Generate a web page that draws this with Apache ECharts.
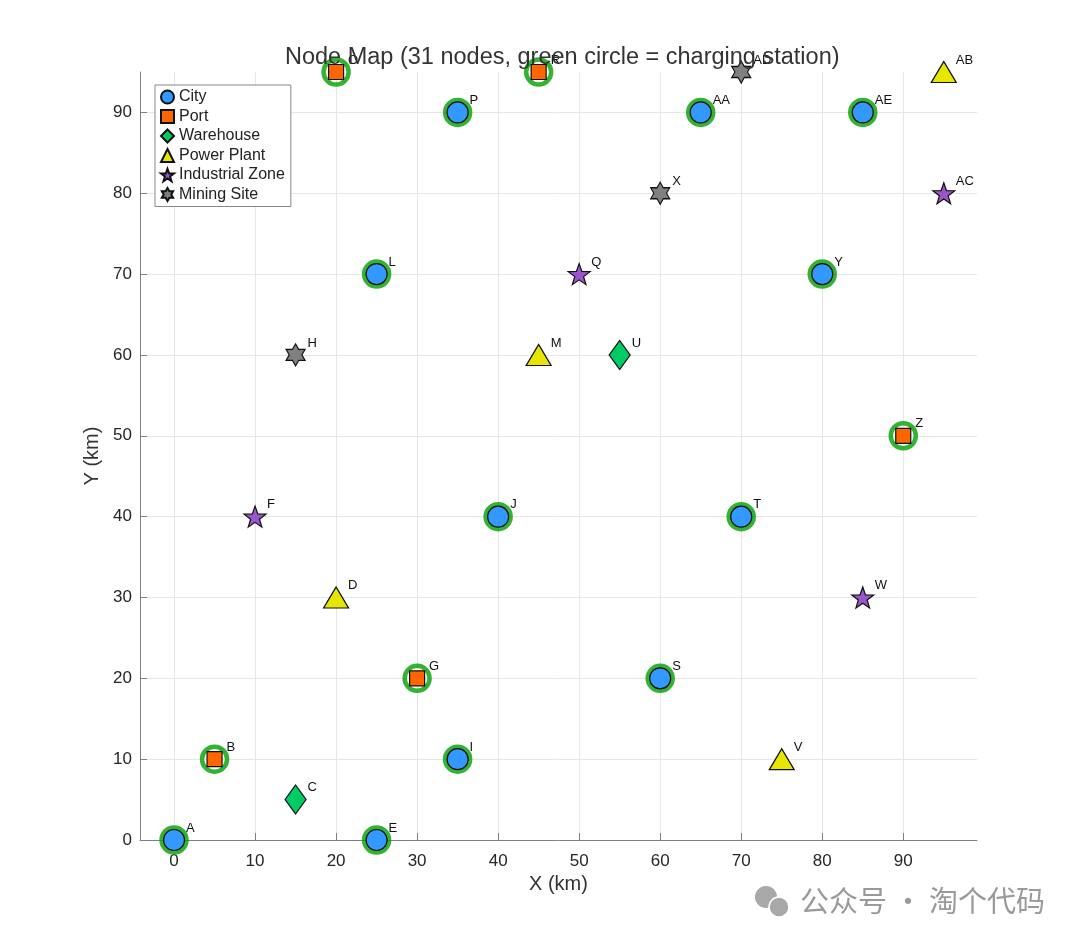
<!DOCTYPE html>
<html style="height: 100%">
  <head>
    <meta charset="utf-8" />
  </head>
  <body style="height: 100%; margin: 0; background: #fff">
    <div id="container" style="width: 1080px; height: 945px"></div>
    <script src="https://cdn.jsdelivr.net/npm/echarts@6/dist/echarts.min.js"></script>
    <script type="text/javascript">
      // node data
      var nodeNames = ["A", "B", "C", "D", "E", "F", "G", "H", "I", "J", "L", "M", "O", "P", "Q",
        "R", "S", "T", "U", "V", "W", "X", "Y", "Z", "AA", "AB", "AC", "AD", "AE"];
      var nodeX = [0, 5, 15, 20, 25, 10, 30, 15, 35, 40, 25, 45, 20, 35, 50,
        45, 60, 70, 55, 75, 85, 60, 80, 90, 65, 95, 95, 70, 85];
      var nodeY = [0, 10, 5, 30, 0, 40, 20, 60, 10, 40, 70, 60, 95, 90, 70,
        95, 20, 40, 60, 10, 30, 80, 70, 50, 90, 95, 80, 95, 90];
      var nodeType = ["City", "Port", "Warehouse", "Power Plant", "City", "Industrial Zone", "Port",
        "Mining Site", "City", "City", "City", "Power Plant", "Port", "City", "Industrial Zone",
        "Port", "City", "City", "Warehouse", "Power Plant", "Industrial Zone", "Mining Site", "City",
        "Port", "City", "Power Plant", "Industrial Zone", "Mining Site", "City"];
      var charging = [1, 1, 0, 0, 1, 0, 1, 0, 1, 1, 1, 0, 1, 1, 0,
        1, 1, 1, 0, 0, 0, 0, 1, 1, 1, 0, 0, 0, 1];
      var typeNames = ["City", "Port", "Warehouse", "Power Plant", "Industrial Zone", "Mining Site"];
      var tickValues = [0, 10, 20, 30, 40, 50, 60, 70, 80, 90];

      function starPath(points, inner) {
        var pts = [];
        for (var i = 0; i < points * 2; i++) {
          var r = i % 2 === 0 ? 1 : inner;
          var a = -Math.PI / 2 + (i * Math.PI) / points;
          pts.push((r * Math.cos(a)).toFixed(3) + "," + (r * Math.sin(a)).toFixed(3));
        }
        return "path://M" + pts.join("L") + "Z";
      }

      var typeStyle = {
        "City": { symbol: "circle", size: 21, color: "#3399ff" },
        "Port": { symbol: "rect", size: 15, color: "#ff6600" },
        "Warehouse": { symbol: "diamond", size: [21, 29], color: "#00cc66" },
        "Power Plant": { symbol: "triangle", size: [25, 21], color: "#e6e600" },
        "Industrial Zone": { symbol: starPath(5, 0.4), size: [22, 21], color: "#9955cc" },
        "Mining Site": { symbol: starPath(6, 0.577), size: [19, 22], color: "#808080" }
      };

      var dom = document.getElementById("container");
      var myChart = echarts.init(dom);
      var font = "Liberation Sans, Arial, sans-serif";

      var ringData = [];
      for (var i = 0; i < nodeNames.length; i++) {
        if (charging[i]) ringData.push([nodeX[i], nodeY[i]]);
      }

      var series = [
        {
          name: "charging",
          type: "scatter",
          data: ringData,
          symbol: "circle",
          symbolSize: 25,
          z: 1,
          silent: true,
          itemStyle: { color: "transparent", borderColor: "#00a000", borderWidth: 4.5 }
        }
      ];
      typeNames.forEach(function (t) {
        var data = [];
        for (var i = 0; i < nodeNames.length; i++) {
          if (nodeType[i] === t) data.push({ name: nodeNames[i], value: [nodeX[i], nodeY[i]] });
        }
        var st = typeStyle[t];
        series.push({
          name: t,
          type: "scatter",
          data: data,
          symbol: st.symbol,
          symbolSize: st.size,
          z: 2,
          itemStyle: { color: st.color, borderColor: "#111", borderWidth: 1.2, opacity: 1 },
          label: {
            show: true,
            formatter: "{b}",
            position: "inside",
            offset: [12, -12],
            align: "left",
            verticalAlign: "middle",
            color: "#111",
            fontSize: 13,
            fontFamily: font
          }
        });
      });

      var option = {
        backgroundColor: "#fff",
        animation: false,
        title: {
          text: "Node Map (31 nodes, green circle = charging station)",
          left: 280,
          top: 41,
          textStyle: { fontSize: 23.5, fontWeight: "normal", color: "#333", fontFamily: font }
        },
        legend: {
          data: typeNames,
          orient: "vertical",
          left: 155,
          top: 85,
          padding: [4, 6, 4, 5],
          itemGap: 3.5,
          itemWidth: 13,
          itemHeight: 13,
          borderColor: "#888",
          borderWidth: 1,
          backgroundColor: "#fff",
          textStyle: { fontSize: 16, color: "#222", fontFamily: font }
        },
        grid: { left: 140, top: 72, width: 837, height: 768 },
        xAxis: {
          type: "value",
          min: -4.2,
          max: 99.1,
          name: "X (km)",
          nameLocation: "middle",
          nameGap: 32,
          nameTextStyle: { fontSize: 20, color: "#333", fontFamily: font },
          axisLine: { show: true, onZero: false, lineStyle: { color: "#808080" } },
          axisTick: { show: true, inside: true, length: 7, customValues: tickValues, lineStyle: { color: "#808080" } },
          axisLabel: { customValues: tickValues, margin: 13, fontSize: 17, color: "#262626", fontFamily: font },
          splitLine: { show: true, lineStyle: { color: "#e6e6e6" } }
        },
        yAxis: {
          type: "value",
          min: 0,
          max: 95,
          name: "Y (km)",
          nameLocation: "middle",
          nameGap: 33,
          nameTextStyle: { fontSize: 20, color: "#333", fontFamily: font },
          axisLine: { show: true, onZero: false, lineStyle: { color: "#808080" } },
          axisTick: { show: true, inside: true, length: 7, customValues: tickValues, lineStyle: { color: "#808080" } },
          axisLabel: { customValues: tickValues, margin: 8, fontSize: 17, color: "#262626", fontFamily: font },
          splitLine: { show: true, lineStyle: { color: "#e6e6e6" } }
        },
        graphic: [
          { type: "circle", shape: { cx: 766, cy: 897, r: 11 }, style: { fill: "#a8a8a8" } },
          { type: "circle", shape: { cx: 779, cy: 907, r: 10 }, style: { fill: "#a8a8a8", stroke: "#fff", lineWidth: 1.5 } },
          {
            type: "text",
            left: 800,
            top: 886,
            style: { text: "公众号 · 淘个代码", fontSize: 29, fill: "#9a9a9a", fontFamily: "Noto Sans CJK SC" }
          }
        ],
        series: series
      };

      myChart.setOption(option);
    </script>
  </body>
</html>
